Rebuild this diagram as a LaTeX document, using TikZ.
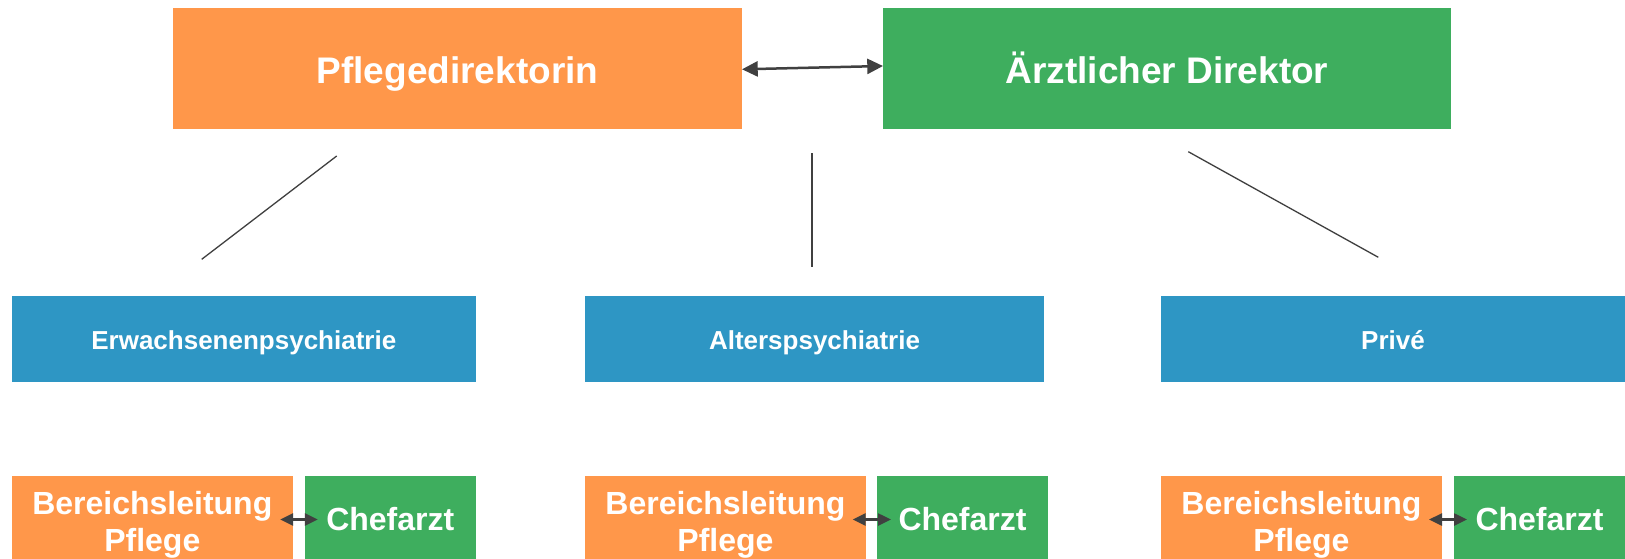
\documentclass[tikz,border=0pt]{standalone}
\usepackage{fontspec}
\setmainfont{Liberation Sans}
\usetikzlibrary{arrows.meta,calc}
\definecolor{orangeF}{RGB}{255,151,74}
\definecolor{greenF}{RGB}{62,174,94}
\definecolor{blueF}{RGB}{46,150,196}
\definecolor{darkG}{RGB}{64,64,64}
\begin{document}
\begin{tikzpicture}[x=1pt,y=-1pt,
  box/.style={rectangle, inner sep=0pt, outer sep=0pt, text=white},
  topbox/.style={box, minimum height=121pt, font=\bfseries\fontsize{37}{44}\selectfont, text height=33pt, text depth=3.4pt},
  midbox/.style={box, fill=blueF, minimum height=86pt, font=\bfseries\fontsize{26}{31}\selectfont, text height=22pt, text depth=1.4pt},
  lowbox/.style={box, fill=orangeF, minimum width=281pt, minimum height=87pt, align=center, font=\bfseries\fontsize{32}{36.5}\selectfont, text height=66pt, text depth=3pt},
  chefbox/.style={box, fill=greenF, minimum width=171pt, minimum height=87pt, font=\bfseries\fontsize{32}{36.5}\selectfont, text height=25pt, text depth=3pt},
  bigarrow/.style={draw=darkG, line width=2.5pt, {Triangle[length=15.7pt,width=15pt]}-{Triangle[length=15.7pt,width=15pt]}},
  smallarrow/.style={draw=darkG, line width=2.5pt, {Triangle[length=13pt,width=12pt]}-{Triangle[length=13pt,width=12pt]}},
  thinline/.style={draw=darkG, line width=1.3pt}
]
\useasboundingbox (0,0) rectangle (1625,558);
\fill[white] (0,0) rectangle (1625,558);

% top
\node[topbox, fill=orangeF, minimum width=569pt] (pd) at (457.5,68.5) {Pflegedirektorin};
\node[topbox, fill=greenF, minimum width=568pt] (ad) at (1167,68.5) {Ärztlicher Direktor};
\draw[bigarrow] ($(pd.east)+(0,0.8)$) -- ($(ad.west)+(0,-2.5)$);

% free lines
\coordinate (l1a) at (336.7,156);
\coordinate (l1b) at (201.7,259.3);
\coordinate (l2a) at (812,153.3);
\coordinate (l2b) at (812,266.7);
\coordinate (l3a) at (1188.3,151.7);
\coordinate (l3b) at (1378.3,257.3);
\draw[thinline] (l1a) -- (l1b);
\draw[thinline] (l2a) -- (l2b);
\draw[thinline] (l3a) -- (l3b);

% middle
\node[midbox, minimum width=464pt] (b1) at (243.8,339) {Erwachsenenpsychiatrie};
\node[midbox, minimum width=459pt] (b2) at (814.5,339) {Alterspsychiatrie};
\node[midbox, minimum width=464pt] (b3) at (1393,339) {Privé};

% bottom
\node[lowbox] (o1) at (152.3,519.5) {Bereichsleitung\\Pflege};
\node[chefbox] (g1) at (390.3,519.5) {Chefarzt};
\draw[smallarrow] ($(o1.east)+(-12.7,0)$) -- ($(g1.west)+(13,0)$);

\node[lowbox] (o2) at (725.5,519.5) {Bereichsleitung\\Pflege};
\node[chefbox] (g2) at (962.5,519.5) {Chefarzt};
\draw[smallarrow] ($(o2.east)+(-13.3,0)$) -- ($(g2.west)+(14,0)$);

\node[lowbox] (o3) at (1301.5,519.5) {Bereichsleitung\\Pflege};
\node[chefbox] (g3) at (1539.5,519.5) {Chefarzt};
\draw[smallarrow] ($(o3.east)+(-13,0)$) -- ($(g3.west)+(13,0)$);
\end{tikzpicture}
\end{document}
